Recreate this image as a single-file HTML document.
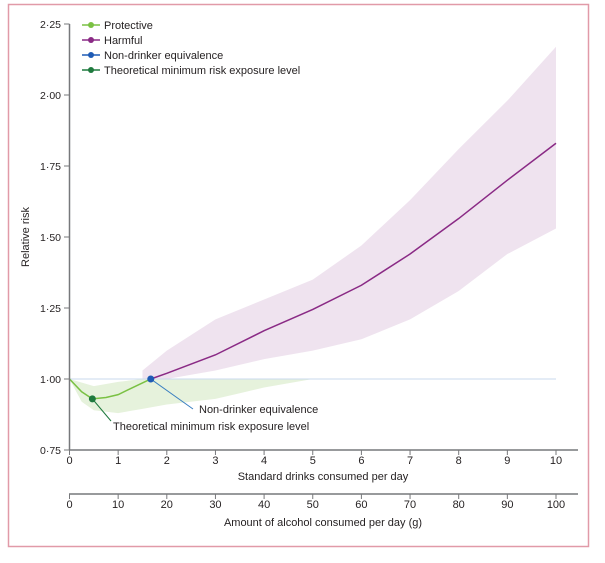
<!DOCTYPE html>
<html><head><meta charset="utf-8"><style>
body{margin:0;background:#fff;}
svg text{font-family:"Liberation Sans",sans-serif;fill:#231f20;}
</style></head><body>
<svg width="605" height="558" xmlns="http://www.w3.org/2000/svg">
<rect x="8.5" y="4.5" width="580" height="542" fill="none" stroke="#e19aa8" stroke-width="1.5"/>
<g id="plot"></g>
</svg>
<script>
const drinks=[1.67,2,3,4,5,6,7,8,9,10];
const harmful=[1.0,1.02,1.085,1.17,1.245,1.33,1.44,1.565,1.70,1.83];
const bandX=[1.5,2,3,4,5,6,7,8,9,10];
const bandUpper=[1.03,1.10,1.21,1.28,1.35,1.47,1.63,1.81,1.98,2.17];
const bandLower=[1.0,1.0,1.03,1.07,1.10,1.14,1.21,1.31,1.44,1.53];
const protX=[0,0.25,0.47,0.75,1,1.3,1.67];
const protective=[1.0,0.955,0.93,0.935,0.945,0.97,1.0];
const gBandX=[0,0.25,0.5,1,1.5,2,3,3.5,4,4.5,5];
const gBandLower=[1.0,0.92,0.89,0.88,0.895,0.91,0.93,0.95,0.97,0.985,1.0];
const gBandUpperX=[0,0.5,1,1.5,5];
const gBandUpper=[1.0,0.975,0.99,1.0,1.0];
const yTicks=[0.75,1.0,1.25,1.5,1.75,2.0,2.25];
const yTickLabels=["0·75","1·00","1·25","1·50","1·75","2·00","2·25"];
const xTicks=[0,1,2,3,4,5,6,7,8,9,10];
const gTicks=[0,10,20,30,40,50,60,70,80,90,100];
const xs=v=>69.5+v*48.65, ys=v=>450-(v-0.75)*284, xg=v=>xs(v/10);
const NS="http://www.w3.org/2000/svg",g=document.getElementById('plot');
function mk(t,a,txt){const e=document.createElementNS(NS,t);for(const k in a)e.setAttribute(k,a[k]);if(txt!=null)e.textContent=txt;g.appendChild(e);return e;}
function pts(X,Y){return X.map((x,i)=>xs(x)+','+ys(Y[i]));}
let e;
e=mk('polygon',{points:pts(gBandX,gBandLower).concat(pts(gBandUpperX,gBandUpper).reverse()).join(' '),fill:'#e6f2dc'});


e=mk('polygon',{points:pts(bandX,bandUpper).concat(pts(bandX,bandLower).reverse()).join(' '),fill:'#efe3ef'});


e=mk('line',{x1:69,x2:xs(10),y1:ys(1),y2:ys(1),stroke:'#c9d9ee','stroke-width':1});


e=mk('polyline',{points:pts(protX,protective).join(' '),fill:'none',stroke:'#7ac143','stroke-width':1.5});


e=mk('polyline',{points:pts(drinks,harmful).join(' '),fill:'none',stroke:'#8a2a85','stroke-width':1.5});


// annotations
e=mk('line',{x1:xs(0.47),y1:ys(0.93),x2:111,y2:421,stroke:'#1f7a3e','stroke-width':1});


e=mk('line',{x1:xs(1.67),y1:ys(1.0),x2:193,y2:409,stroke:'#3a7fc1','stroke-width':1});


e=mk('circle',{cx:xs(0.47),cy:ys(0.93),r:3.5,fill:'#1f7a3e'});


e=mk('circle',{cx:xs(1.67),cy:ys(1.0),r:3.5,fill:'#1f5bb5'});


e=mk('text',{x:199,y:413,'font-size':11},'Non-drinker equivalence');


e=mk('text',{x:113,y:430,'font-size':11},'Theoretical minimum risk exposure level');


// y axis
e=mk('line',{x1:69.5,x2:69.5,y1:ys(2.25),y2:450,stroke:'#77787b','stroke-width':1.5});


yTicks.forEach((v,i)=>{
 e=mk('line',{x1:64,x2:69.5,y1:ys(v),y2:ys(v),stroke:'#77787b'});
 
 
 e=mk('text',{x:61,y:ys(v)+4,'font-size':10.5,'text-anchor':'end'},yTickLabels[i]);
 
 
});
e=mk('text',{x:29,y:237,'font-size':11,'text-anchor':'middle',transform:'rotate(-90 29 237)'},'Relative risk');


// x axes
[[450,xTicks,xs,'Standard drinks consumed per day',480],[494,gTicks,xg,'Amount of alcohol consumed per day (g)',526]].forEach(([y,T,f,title,ty],k)=>{
 e=mk('line',{x1:69,x2:578,y1:y,y2:y,stroke:'#77787b','stroke-width':1.5});
 
 
 T.forEach(v=>{
  e=mk('line',{x1:f(v),x2:f(v),y1:y,y2:y+5,stroke:'#77787b'});
  
  
  e=mk('text',{x:f(v),y:y+14,'font-size':11,'text-anchor':'middle'},String(v));
  
  
 });
 e=mk('text',{x:323,y:ty,'font-size':11,'text-anchor':'middle'},title);
 
 
});
// legend
[['Protective','#7ac143'],['Harmful','#8a2a85'],['Non-drinker equivalence','#1f5bb5'],['Theoretical minimum risk exposure level','#1f7a3e']].forEach(([t,c],i)=>{
 const y=25+i*15;
 e=mk('line',{x1:82,x2:100,y1:y,y2:y,stroke:c,'stroke-width':1.5});
 
 
 e=mk('circle',{cx:91,cy:y,r:3,fill:c});
 
 
 e=mk('text',{x:104,y:y+4,'font-size':11},t);
 
 
});
</script>
</body></html>
